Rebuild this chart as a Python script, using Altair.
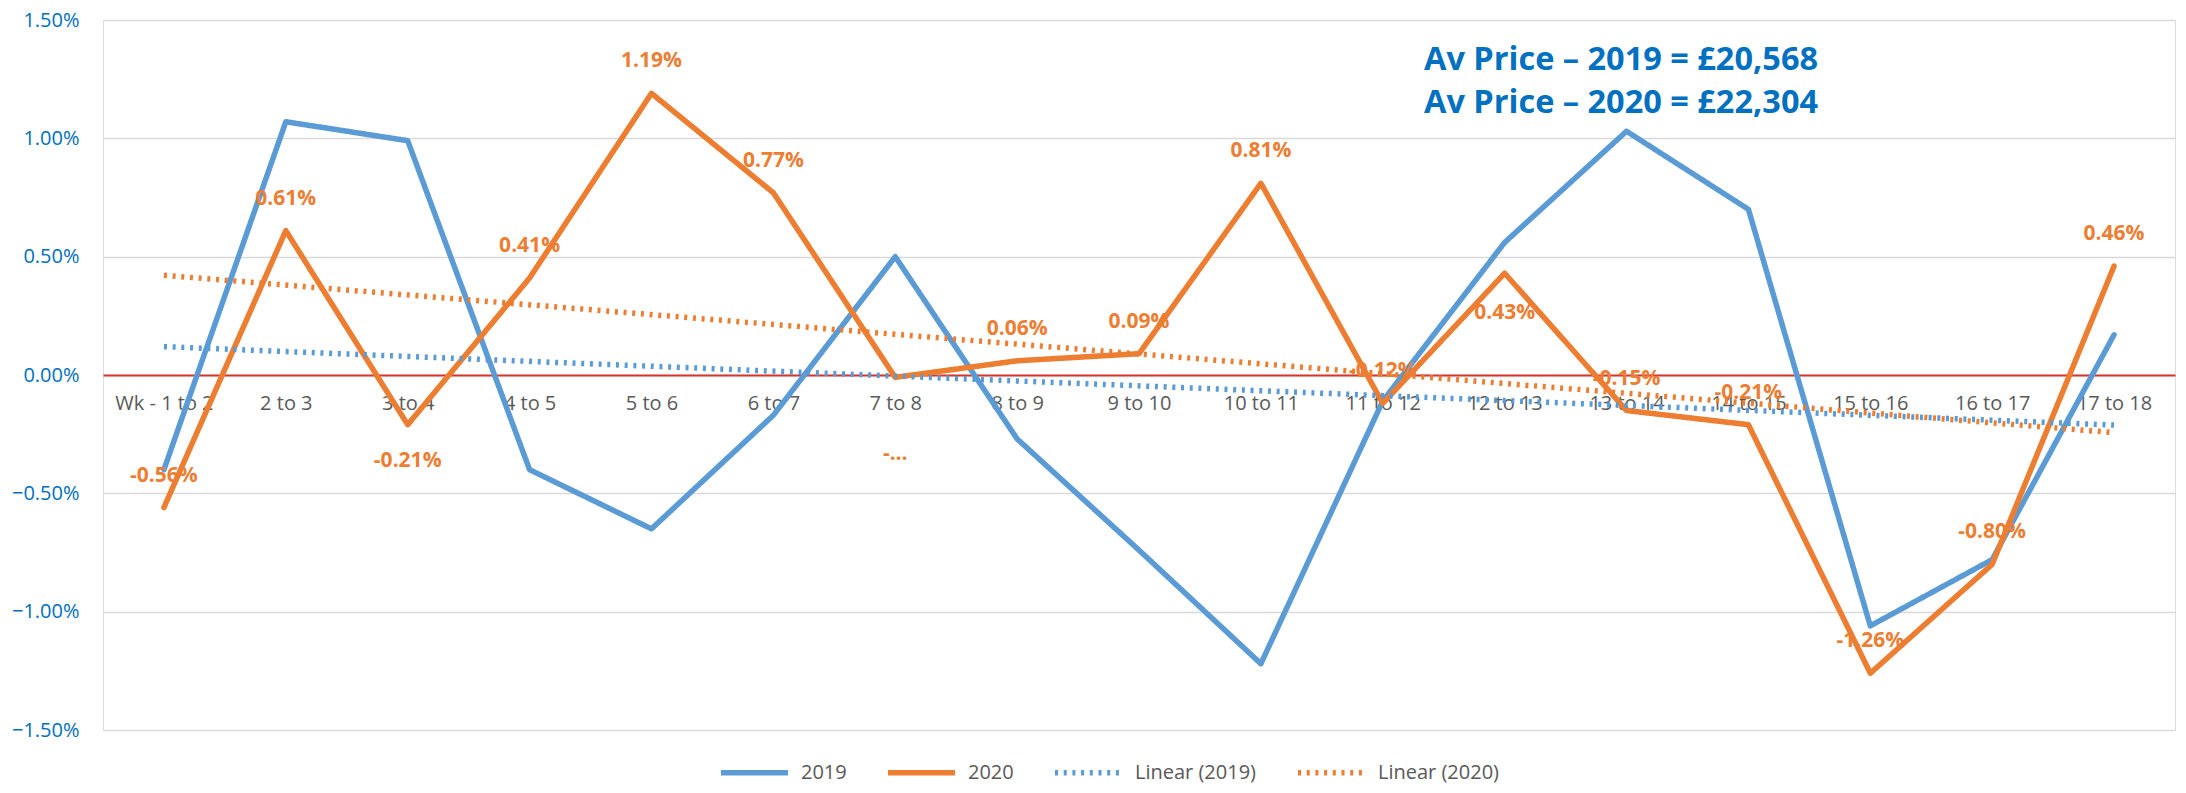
import json
import altair as alt
import pandas as pd

# ---------------- data ----------------
weeks = ["Wk - 1 to 2", "2 to 3", "3 to 4", "4 to 5", "5 to 6", "6 to 7", "7 to 8",
         "8 to 9", "9 to 10", "10 to 11", "11 to 12", "12 to 13", "13 to 14",
         "14 to 15", "15 to 16", "16 to 17", "17 to 18"]
pct_2019 = [-0.40, 1.07, 0.99, -0.40, -0.65, -0.17, 0.50, -0.27, -0.74, -1.22,
            -0.11, 0.56, 1.03, 0.70, -1.06, -0.78, 0.17]
pct_2020 = [-0.56, 0.61, -0.21, 0.41, 1.19, 0.77, -0.01, 0.06, 0.09, 0.81,
            -0.12, 0.43, -0.15, -0.21, -1.26, -0.80, 0.46]
labels_2020 = ["-0.56%", "0.61%", "-0.21%", "0.41%", "1.19%", "0.77%", "-...",
               "0.06%", "0.09%", "0.81%", "-0.12%", "0.43%", "-0.15%", "-0.21%",
               "-1.26%", "-0.80%", "0.46%"]
y_ticks = [-1.5, -1.0, -0.5, 0.0, 0.5, 1.0, 1.5]
series_names = ["2019", "2020", "Linear (2019)", "Linear (2020)"]
annotation = ["Av Price \u2013 2019 = \u00a320,568", "Av Price \u2013 2020 = \u00a322,304"]

# ---------------- table ----------------
rows = []
for i, w in enumerate(weeks):
    rows.append({"idx": i, "week": w, "series": "2019", "value": pct_2019[i], "label": ""})
    rows.append({"idx": i, "week": w, "series": "2020", "value": pct_2020[i], "label": labels_2020[i]})
df = pd.DataFrame(rows)

# ---------------- style ----------------
BLUE = "#5B9BD5"
ORANGE = "#ED7D31"
TXT_BLUE = "#0070C0"
GREY_TXT = "#595959"
FONT = "Open Sans"
W, H = 2072, 710

label_expr = json.dumps(weeks) + "[datum.value]"

x_enc = alt.X(
    "idx:Q",
    scale=alt.Scale(domain=[-0.5, len(weeks) - 0.5], nice=False, zero=False),
    axis=alt.Axis(values=list(range(len(weeks))), labelExpr=label_expr, title=None,
                  grid=False, ticks=False, domain=True, domainColor="#D9342B",
                  domainWidth=2, offset=-H / 2, labelPadding=18, labelFontSize=20,
                  labelColor=GREY_TXT, labelFont=FONT, labelOverlap=False,
                  labelFlush=False),
)
y_enc = alt.Y(
    "value:Q",
    scale=alt.Scale(domain=[-1.5, 1.5], nice=False, zero=False),
    axis=alt.Axis(values=y_ticks, labelExpr="format(datum.value, '.2f') + '%'",
                  title=None, grid=True, gridColor="#D9D9D9", gridWidth=1.5,
                  domain=False, ticks=False, labelPadding=24, labelFontSize=20,
                  labelColor=TXT_BLUE, labelFont=FONT),
)

color_enc = alt.Color(
    "series:N",
    scale=alt.Scale(domain=series_names, range=[BLUE, ORANGE, BLUE, ORANGE]),
    legend=alt.Legend(orient="none", legendX=615, legendY=716, direction="horizontal",
                      title=None, symbolType="stroke", symbolSize=4489,
                      labelFontSize=20, labelFont=FONT, labelColor=GREY_TXT,
                      columnPadding=30, labelOffset=10),
)
dash_enc = alt.StrokeDash(
    "series:N",
    scale=alt.Scale(domain=series_names, range=[[1, 0], [1, 0], [3, 5.7], [3, 5.7]]),
)
width_enc = alt.StrokeWidth(
    "series:N",
    scale=alt.Scale(domain=series_names, range=[5.5, 5.5, 3.5, 3.5]),
)

base = alt.Chart(df)

lines = base.mark_line(strokeCap="round", strokeJoin="round").encode(
    x=x_enc, y=y_enc, color=color_enc, strokeDash=dash_enc, strokeWidth=width_enc,
    order="idx:Q",
)

trend = base.transform_regression(
    "idx", "value", groupby=["series"]
).transform_calculate(
    series="'Linear (' + datum.series + ')'"
).mark_line().encode(
    x=x_enc, y=y_enc, color=color_enc, strokeDash=dash_enc, strokeWidth=width_enc,
)

below_offsets = {"3 to 4": 36, "12 to 13": 40, "7 to 8": 77}
lab_src = base.transform_filter("datum.series == '2020'")
text_kw = dict(font=FONT, fontSize=21, fontWeight="bold", color=ORANGE, baseline="middle")
above_filter = " && ".join([f"datum.week != '{w}'" for w in below_offsets])
label_layers = [
    lab_src.transform_filter(above_filter).mark_text(dy=-32, **text_kw).encode(
        x=x_enc, y=y_enc, text="label:N")
]
for w, off in below_offsets.items():
    label_layers.append(
        lab_src.transform_filter(f"datum.week == '{w}'").mark_text(dy=off, **text_kw).encode(
            x=x_enc, y=y_enc, text="label:N")
    )

ann = alt.Chart(pd.DataFrame({"t": ["\n".join(annotation)]})).mark_text(
    align="left", baseline="middle", lineBreak="\n", lineHeight=43,
    font=FONT, fontSize=32.5, fontWeight="bold", color=TXT_BLUE,
).encode(x=alt.value(1424 - 103), y=alt.value(40), text="t:N")

chart = alt.layer(lines, trend, *label_layers, ann).properties(
    width=W, height=H,
    autosize=alt.AutoSizeParams(type="none"),
    padding={"left": 95, "top": 12, "right": 3, "bottom": 55},
).configure_view(stroke=None).configure(background="white")

chart.save("out.html", embed_options={"renderer": "svg", "actions": False})
